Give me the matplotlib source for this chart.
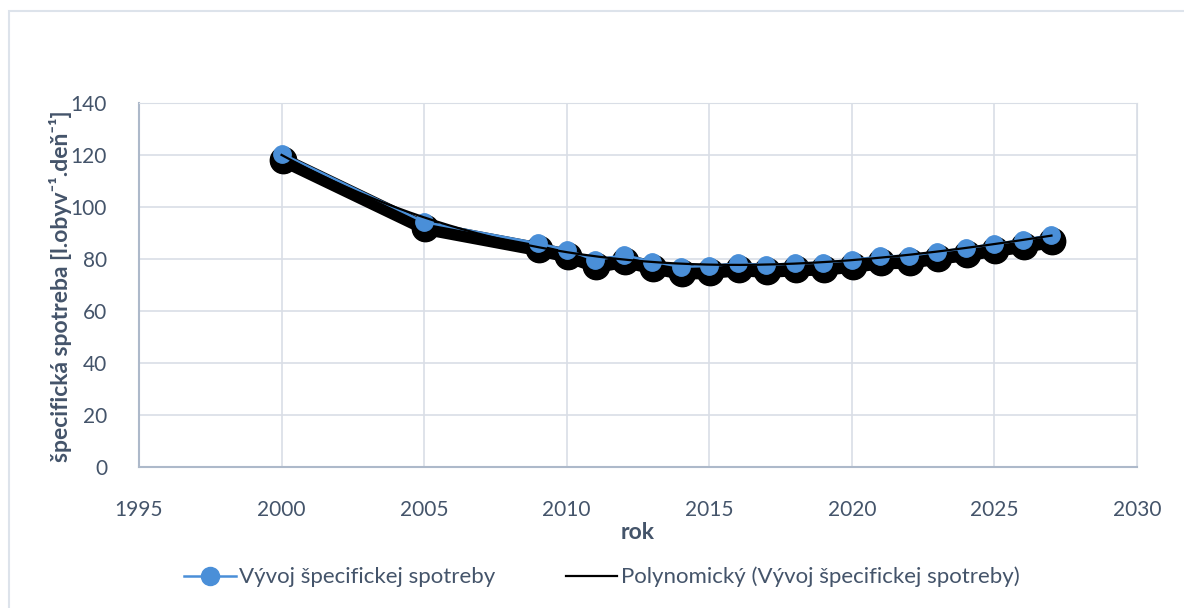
import numpy as np
import matplotlib
matplotlib.use('Agg')
import matplotlib.pyplot as plt
from matplotlib.transforms import offset_copy
from matplotlib.patches import Rectangle
from matplotlib.lines import Line2D

plt.rcParams['font.family'] = ['Lato', 'DejaVu Sans']

# data
roky = [2000, 2005, 2009, 2010, 2011, 2012, 2013, 2014, 2015, 2016, 2017,
        2018, 2019, 2020, 2021, 2022, 2023, 2024, 2025, 2026, 2027]
spotreba = [120.5, 94.2, 86.0, 83.5, 79.6, 81.5, 79.0, 77.0, 77.3, 78.3, 77.7,
            78.3, 78.6, 79.6, 81.0, 81.2, 82.8, 84.1, 85.8, 87.3, 89.2]
xticks = [1995, 2000, 2005, 2010, 2015, 2020, 2025, 2030]
yticks = [0, 20, 40, 60, 80, 100, 120, 140]

modra = '#4A8FD8'
text_c = '#44546A'
grid_c = '#D9DEE6'
axis_c = '#ADB9CA'

fig = plt.figure(figsize=(11.84, 6.08), dpi=100)
ax = fig.add_axes([139/1184, 1-467/608, (1137-139)/1184, (467-103)/608])

# outer chart border
fig.patches.append(Rectangle((9/1184, -0.02), 1.1, 1-11/608+0.02, transform=fig.transFigure,
                             fill=False, edgecolor='#DDE3EB', lw=1.5))

# shadow (Excel effect)
tr_sh = offset_copy(ax.transData, fig=fig, x=1, y=-6, units='dots')
ax.plot(roky, spotreba, color='black', lw=10, transform=tr_sh, zorder=2, solid_capstyle='butt')
ax.plot(roky, spotreba, ls='none', marker='o', ms=19, color='black', transform=tr_sh, zorder=3)

ax.plot(roky, spotreba, color=modra, lw=1.8, marker='o', ms=12.5, mfc=modra, mec=modra, zorder=4)

# polynomial trendline
koef = np.polyfit(roky, spotreba, 3)
xt = np.linspace(roky[0], roky[-1], 300)
ax.plot(xt, np.polyval(koef, xt), color='black', lw=1.6, zorder=5)

ax.set_xlim(1995, 2030)
ax.set_ylim(0, 140)
ax.set_xticks(xticks)
ax.set_yticks(yticks)
ax.grid(True, color=grid_c, lw=1.2)
ax.set_axisbelow(True)
for s in ['top', 'right']:
    ax.spines[s].set_color(grid_c)
for s in ['left', 'bottom']:
    ax.spines[s].set_color(axis_c)
    ax.spines[s].set_linewidth(1.5)
ax.tick_params(length=0, labelsize=15, labelcolor=text_c)
ax.tick_params(axis='x', pad=24)
ax.tick_params(axis='y', pad=23)

ax.set_xlabel('rok', fontsize=16.5, fontweight='bold', color=text_c)
ax.xaxis.set_label_coords(0.5, -0.179)
ax.xaxis.label.set_va('center')
ax.set_ylabel('špecifická spotreba [l.obyv⁻¹.deň⁻¹]', fontsize=16.5, fontweight='bold', color=text_c)
ax.yaxis.set_label_coords(-0.079, 0.497)
ax.yaxis.label.set_va('center')

h1 = Line2D([], [], color=modra, lw=1.8, marker='o', ms=13, mfc=modra, mec=modra)
h2 = Line2D([], [], color='black', lw=1.6)
fig.legend([h1, h2], ['Vývoj špecifickej spotreby', 'Polynomický (Vývoj špecifickej spotreby)'],
           loc='center', bbox_to_anchor=(602/1184, 1-577/608), ncol=2, frameon=False,
           fontsize=16, labelcolor=text_c, handlelength=2.3, handletextpad=0.15, columnspacing=3.2)

fig.savefig('out.png', dpi=100)
